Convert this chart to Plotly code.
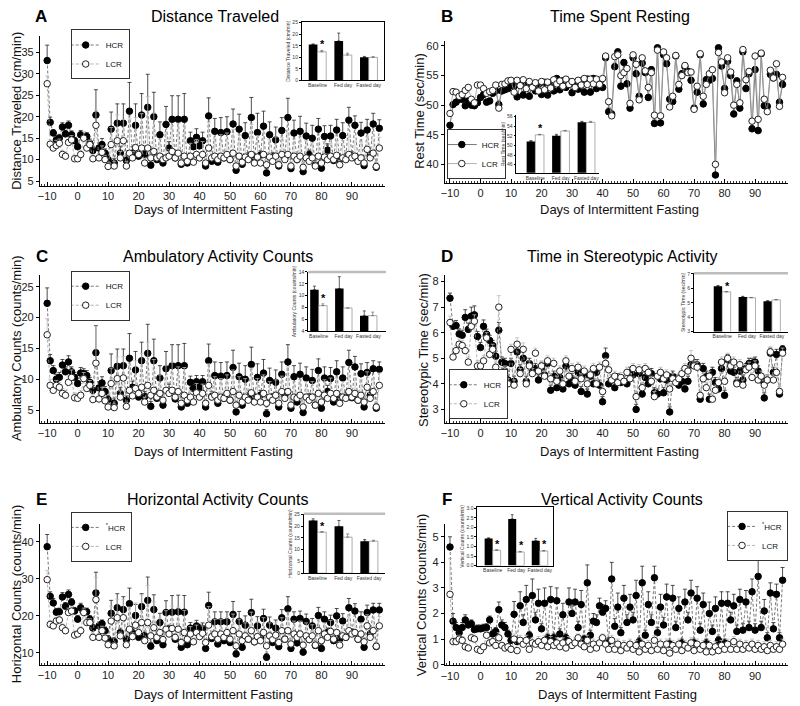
import plotly.graph_objects as go

FONT = "Liberation Sans, Arial, Helvetica, sans-serif"

# ---------------- data ----------------
days = list(range(-10, 100))
day_ticks = [-10, 0, 10, 20, 30, 40, 50, 60, 70, 80, 90]
inset_cats = ["Baseline", "Fed day", "Fasted day"]

# A  Distance traveled (cm/min)
A_hcr = [33.1, 18.7, 16.2, 14.6, 15.0, 17.6, 16.0, 18.0, 15.8, 14.4,
         13.0, 15.8, 15.2, 15.4, 13.8, 12.1, 20.4, 12.7, 13.5, 11.5,
         10.0, 17.1, 9.2, 18.5, 11.5, 18.5, 9.8, 21.3, 11.5, 18.0,
         10.8, 20.4, 11.2, 22.2, 8.7, 20.0, 10.0, 15.8, 9.2, 18.2,
         12.7, 19.4, 10.4, 19.4, 8.9, 19.4, 9.2, 14.4, 13.0, 15.2,
         13.2, 14.4, 8.5, 20.2, 9.6, 16.6, 9.4, 16.3, 10.4, 16.5,
         10.0, 18.3, 7.5, 17.1, 8.9, 15.6, 10.6, 19.8, 10.4, 16.3,
         11.0, 17.8, 6.9, 15.8, 10.6, 14.6, 8.5, 16.8, 10.4, 19.8,
         7.9, 16.2, 10.0, 16.6, 7.2, 15.5, 11.2, 15.0, 8.7, 17.1,
         8.0, 15.4, 12.2, 15.5, 9.8, 16.9, 10.0, 15.6, 10.4, 19.2,
         10.8, 18.0, 10.0, 16.2, 8.6, 16.9, 10.9, 18.3, 8.2, 17.3]
A_hcr_err = [3.6, 1.2, 0.8, 1.0, 0.9, 1.0, 0.8, 1.0, 0.9, 0.8,
             0.9, 1.0, 0.8, 0.9, 1.0, 1.0, 5.9, 1.2, 1.4, 1.0,
             1.0, 4.0, 1.0, 4.5, 1.5, 4.5, 1.0, 6.7, 1.5, 5.0,
             1.0, 5.0, 1.2, 7.7, 1.0, 5.7, 1.0, 3.0, 1.0, 4.2,
             1.5, 5.5, 1.2, 5.5, 1.0, 6.0, 1.0, 2.0, 1.2, 2.0,
             1.0, 2.0, 1.0, 4.2, 1.0, 3.0, 1.0, 3.5, 1.0, 3.5,
             1.0, 3.5, 1.0, 3.5, 1.0, 3.0, 1.0, 4.7, 1.0, 4.5,
             1.0, 3.5, 1.0, 3.0, 1.0, 3.0, 1.0, 3.0, 1.0, 4.5,
             1.0, 3.0, 1.0, 3.5, 1.0, 3.0, 1.0, 3.0, 1.0, 2.5,
             1.0, 2.5, 1.5, 2.5, 1.0, 2.5, 1.0, 3.0, 1.0, 3.0,
             1.0, 2.2, 1.0, 2.5, 1.0, 2.5, 1.0, 2.5, 1.0, 2.0]
A_lcr = [27.7, 13.6, 12.7, 13.3, 13.8, 11.2, 10.8, 14.0, 14.6, 10.2,
         10.2, 11.2, 15.0, 12.7, 13.5, 10.2, 18.0, 10.4, 11.7, 10.0,
         8.4, 13.5, 8.5, 14.4, 10.4, 14.4, 8.5, 11.5, 10.4, 12.8,
         11.2, 12.7, 9.2, 12.7, 10.4, 11.9, 10.4, 10.8, 10.0, 10.4,
         10.8, 11.9, 10.4, 11.5, 9.2, 10.8, 9.6, 10.8, 9.4, 11.2,
         10.4, 11.2, 9.2, 12.7, 10.4, 10.8, 10.0, 10.8, 10.4, 11.2,
         10.0, 11.5, 8.5, 10.8, 9.4, 10.6, 10.0, 11.2, 9.2, 10.6,
         9.2, 11.2, 8.8, 10.6, 9.6, 10.8, 8.8, 11.2, 10.0, 11.2,
         8.5, 10.8, 10.0, 10.8, 8.2, 10.4, 9.6, 10.4, 8.5, 10.8,
         9.2, 10.6, 10.0, 10.8, 10.0, 11.0, 8.8, 10.4, 10.0, 11.2,
         10.4, 10.8, 9.6, 10.4, 9.2, 12.4, 10.4, 11.5, 8.4, 12.7]
A_lcr_err = [1.8, 1.0, 1.0, 1.2, 1.0, 1.0, 1.0, 1.2, 1.0, 0.8,
             0.8, 1.0, 1.5, 1.2, 1.0, 0.8, 3.5, 1.0, 1.5, 1.0,
             1.0, 4.0, 1.0, 6.0, 1.5, 5.0, 1.0, 8.0, 1.5, 7.0,
             1.0, 8.0, 1.0, 12.0, 1.0, 9.0, 1.0, 4.0, 1.0, 6.0,
             1.5, 6.0, 1.0, 7.0, 1.0, 7.0, 1.0, 3.0, 1.0, 3.5,
             1.0, 3.0, 1.0, 6.0, 1.0, 4.0, 1.0, 5.0, 1.0, 5.0,
             1.0, 5.5, 1.0, 5.0, 1.0, 4.0, 1.0, 7.0, 1.0, 5.0,
             1.0, 5.0, 1.0, 4.0, 1.0, 4.5, 1.0, 4.0, 1.0, 5.0,
             1.0, 4.0, 1.0, 4.5, 1.0, 4.0, 1.0, 3.5, 1.0, 3.0,
             1.0, 3.5, 1.0, 3.0, 1.0, 3.5, 1.0, 4.0, 1.0, 4.0,
             1.0, 3.5, 1.0, 3.5, 1.0, 3.0, 1.0, 3.0, 1.0, 2.5]

# B  Rest time (sec/min)
B_hcr = [46.6, 50.1, 50.5, 51.0, 51.0, 49.9, 50.7, 50.0, 49.9, 50.4,
         51.3, 51.8, 50.5, 50.7, 52.0, 52.4, 50.1, 52.4, 52.6, 52.8,
         53.8, 53.2, 51.4, 53.5, 51.7, 53.5, 51.5, 53.4, 52.4, 53.5,
         51.8, 53.8, 51.7, 53.5, 52.4, 54.5, 52.6, 54.1, 53.0, 53.9,
         52.1, 53.7, 52.7, 54.1, 52.2, 54.4, 52.2, 54.5, 52.8, 53.8,
         53.0, 58.0, 48.9, 48.5, 56.5, 59.0, 53.2, 57.2, 53.6, 49.5,
         58.0, 55.3, 51.5, 57.1, 55.5, 51.3, 56.0, 46.9, 59.7, 47.0,
         58.5, 57.0, 51.0, 50.6, 58.3, 52.7, 55.3, 56.5, 55.7, 54.2,
         49.5, 52.2, 58.5, 50.2, 54.3, 54.2, 54.5, 38.2, 59.7, 56.6,
         52.8, 57.4, 55.0, 48.5, 54.1, 49.5, 59.0, 52.8, 55.3, 46.0,
         56.0, 45.7, 58.7, 49.9, 49.8, 55.2, 54.6, 55.2, 50.5, 53.5]
B_hcr_err = [0.3, 0.4, 0.4, 0.5, 0.5, 0.4, 0.5, 0.4, 0.5, 0.5,
             0.5, 0.5, 0.5, 0.5, 0.5, 0.5, 0.6, 0.5, 0.5, 0.6,
             0.6, 0.6, 0.6, 0.6, 0.6, 0.6, 0.7, 0.6, 0.6, 0.6,
             0.7, 0.6, 0.8, 0.6, 0.6, 0.5, 0.6, 0.5, 0.6, 0.5,
             0.6, 0.5, 0.6, 0.5, 0.6, 0.5, 0.6, 0.5, 0.6, 0.5,
             0.5, 0.5, 0.6, 0.5, 0.6, 0.5, 0.5, 0.5, 0.5, 0.5,
             0.5, 0.5, 0.5, 0.5, 0.5, 0.5, 0.5, 0.6, 0.4, 0.8,
             0.5, 0.5, 0.5, 0.5, 0.5, 0.5, 0.5, 0.5, 0.5, 0.5,
             0.5, 0.5, 0.5, 0.5, 0.5, 0.5, 0.5, 0.4, 0.4, 0.5,
             0.5, 0.5, 0.5, 0.5, 0.5, 0.5, 0.5, 0.5, 0.5, 0.5,
             0.5, 0.5, 0.5, 0.5, 0.5, 0.5, 0.5, 0.5, 0.5, 0.5]
B_lcr = [48.6, 52.3, 52.2, 51.5, 51.8, 52.5, 53.0, 51.0, 50.4, 53.4,
         53.4, 52.8, 52.0, 52.3, 52.5, 53.4, 49.5, 53.5, 53.6, 54.1,
         54.2, 52.2, 54.2, 53.3, 54.3, 52.8, 54.0, 53.0, 53.8, 52.4,
         54.0, 52.6, 53.9, 52.9, 54.3, 53.6, 54.1, 53.2, 54.4, 53.5,
         54.0, 53.0, 54.2, 53.4, 54.5, 53.5, 54.4, 53.6, 54.4, 53.5,
         54.5, 58.3, 50.6, 48.2, 58.2, 58.5, 55.0, 55.5, 56.2, 50.3,
         58.5, 56.9, 50.9, 58.0, 55.8, 53.0, 55.5, 48.3, 59.3, 48.2,
         59.0, 58.0, 49.7, 51.5, 58.4, 53.5, 55.0, 56.7, 55.5, 55.6,
         49.3, 53.2, 58.7, 51.5, 53.5, 55.3, 56.0, 40.0, 58.9, 57.3,
         52.1, 58.0, 55.6, 50.0, 53.5, 50.4, 59.4, 54.3, 55.7, 47.3,
         58.3, 47.6, 58.8, 51.0, 48.9, 55.9, 54.6, 57.0, 49.8, 54.7]
B_lcr_err = [0.4, 0.4, 0.4, 0.4, 0.4, 0.4, 0.4, 0.4, 0.4, 0.4,
             0.4, 0.4, 0.4, 0.4, 0.4, 0.4, 0.5, 0.4, 0.4, 0.4,
             0.4, 0.4, 0.4, 0.4, 0.4, 0.4, 0.4, 0.4, 0.4, 0.4,
             0.4, 0.4, 0.4, 0.4, 0.4, 0.4, 0.4, 0.4, 0.4, 0.4,
             0.4, 0.4, 0.4, 0.4, 0.4, 0.4, 0.4, 0.4, 0.4, 0.4,
             0.4, 0.3, 0.4, 0.4, 0.3, 0.3, 0.4, 0.4, 0.4, 0.4,
             0.3, 0.4, 0.4, 0.3, 0.4, 0.4, 0.4, 0.4, 0.3, 0.4,
             0.3, 0.3, 0.4, 0.4, 0.3, 0.4, 0.4, 0.4, 0.4, 0.4,
             0.4, 0.4, 0.3, 0.4, 0.4, 0.4, 0.4, 0.4, 0.3, 0.4,
             0.4, 0.3, 0.4, 0.4, 0.4, 0.4, 0.3, 0.4, 0.4, 0.4,
             0.3, 0.4, 0.3, 0.4, 0.4, 0.4, 0.4, 0.4, 0.4, 0.4]

# C  Ambulatory counts (counts/min)
C_hcr = [22.3, 13.0, 11.4, 10.0, 10.3, 12.3, 11.2, 12.8, 11.2, 10.3,
         9.3, 11.0, 10.9, 10.6, 9.5, 8.2, 14.3, 8.6, 9.4, 8.0,
         6.7, 11.4, 6.1, 12.1, 7.7, 12.2, 6.6, 13.4, 8.7, 11.5,
         7.1, 13.0, 7.2, 14.2, 5.6, 13.0, 6.9, 10.2, 5.8, 11.7,
         8.2, 12.2, 6.8, 12.2, 5.5, 12.2, 6.1, 9.5, 8.5, 9.6,
         8.7, 9.6, 5.5, 13.0, 7.2, 10.6, 6.1, 10.5, 6.9, 10.6,
         6.6, 11.9, 4.7, 10.4, 5.8, 10.0, 7.1, 12.4, 6.9, 10.3,
         7.4, 11.0, 4.4, 9.8, 6.9, 9.5, 5.5, 10.8, 7.4, 12.8,
         5.3, 10.4, 6.3, 10.8, 4.6, 10.2, 6.9, 9.8, 5.8, 11.4,
         5.3, 10.2, 8.0, 10.1, 6.3, 11.2, 6.9, 10.2, 7.1, 12.7,
         7.0, 12.0, 6.6, 10.9, 5.5, 11.1, 7.4, 11.7, 5.3, 11.6]
C_hcr_err = [2.5, 1.0, 0.8, 0.8, 0.8, 0.9, 0.8, 1.0, 0.8, 0.8,
             0.8, 0.9, 0.8, 0.8, 0.8, 0.8, 4.4, 1.0, 1.0, 0.8,
             0.7, 2.7, 0.7, 2.8, 1.0, 2.7, 0.7, 4.0, 1.0, 3.0,
             0.8, 3.0, 0.8, 4.7, 0.8, 3.5, 0.8, 2.0, 0.8, 2.8,
             1.0, 3.4, 0.8, 3.4, 0.8, 3.6, 0.8, 1.0, 0.8, 1.0,
             0.8, 1.0, 0.7, 2.7, 0.8, 2.2, 0.8, 2.2, 0.8, 2.2,
             0.8, 2.8, 0.7, 2.2, 0.8, 2.2, 0.8, 2.8, 0.8, 2.2,
             0.8, 2.2, 0.7, 2.0, 0.8, 2.0, 0.7, 2.0, 0.8, 2.8,
             0.7, 1.8, 0.8, 1.8, 0.7, 1.8, 0.8, 1.8, 0.7, 1.9,
             0.7, 1.8, 1.0, 1.8, 0.8, 1.8, 0.8, 1.8, 0.8, 2.0,
             0.8, 1.7, 0.8, 1.6, 0.7, 1.6, 0.8, 1.3, 0.7, 1.2]
C_lcr = [17.2, 9.0, 8.2, 9.0, 8.7, 7.7, 7.4, 9.5, 10.3, 7.0,
         6.9, 7.4, 10.1, 8.5, 9.0, 6.7, 12.6, 6.8, 7.7, 6.5,
         5.5, 9.3, 5.4, 10.1, 7.1, 10.2, 5.6, 8.2, 7.3, 8.5,
         7.7, 8.7, 6.3, 9.0, 7.4, 8.2, 7.1, 7.7, 6.6, 8.2,
         7.7, 8.2, 7.1, 8.0, 6.1, 7.4, 6.6, 7.1, 6.3, 7.8,
         7.1, 7.7, 6.1, 9.0, 7.1, 7.4, 6.6, 7.1, 6.9, 7.7,
         6.6, 8.0, 5.8, 7.4, 6.3, 7.1, 6.6, 7.8, 6.3, 7.1,
         6.3, 7.7, 6.1, 7.1, 6.6, 7.4, 6.1, 8.0, 6.9, 8.0,
         5.8, 7.1, 6.9, 7.4, 5.5, 7.1, 6.6, 7.1, 5.8, 7.7,
         6.3, 7.4, 6.9, 7.7, 6.9, 7.7, 6.1, 7.1, 6.9, 8.0,
         7.1, 7.7, 6.6, 7.4, 6.3, 8.7, 6.9, 8.0, 5.5, 9.0]
C_lcr_err = [2.6, 1.0, 0.8, 0.8, 0.8, 0.8, 0.8, 1.0, 1.2, 0.8,
             0.8, 0.8, 1.0, 0.8, 0.8, 0.8, 6.0, 0.8, 1.0, 0.8,
             0.6, 2.5, 0.6, 3.5, 1.0, 3.5, 0.6, 4.0, 1.0, 4.5,
             1.0, 5.5, 0.8, 7.0, 0.8, 5.0, 0.8, 3.0, 0.8, 4.0,
             1.0, 4.5, 0.8, 4.0, 0.8, 4.5, 0.8, 1.0, 0.8, 1.5,
             0.8, 1.5, 0.8, 3.5, 0.8, 3.0, 0.8, 3.0, 0.8, 3.0,
             0.8, 3.5, 0.8, 3.0, 0.8, 3.0, 0.8, 4.0, 0.8, 3.0,
             0.8, 3.0, 0.8, 2.5, 0.8, 2.5, 0.8, 2.5, 0.8, 4.0,
             0.8, 2.5, 0.8, 2.5, 0.8, 2.5, 0.8, 2.5, 0.8, 2.5,
             0.8, 2.5, 0.8, 2.5, 0.8, 2.5, 0.8, 2.5, 0.8, 2.5,
             0.8, 2.5, 0.8, 2.5, 0.8, 2.5, 0.8, 2.0, 0.8, 2.0]

# D  Stereotypic time (sec/min)
D_hcr = [7.35, 6.25, 6.28, 5.95, 5.9, 6.6, 6.13, 6.65, 6.7, 5.85,
         5.42, 6.25, 5.94, 5.7, 5.5, 5.08, 6.1, 4.85, 4.8, 4.15,
         4.8, 4.1, 5.25, 4.55, 5.0, 4.1, 4.8, 4.45, 4.6, 4.15,
         4.65, 4.35, 4.8, 3.75, 4.3, 3.85, 4.25, 3.8, 4.7, 4.0,
         4.2, 3.95, 4.45, 3.7, 4.35, 3.6, 4.3, 4.0, 4.45, 3.95,
         3.3, 5.1, 4.0, 4.15, 3.85, 4.2, 4.05, 4.1, 4.0, 4.45,
         4.35, 3.0, 4.4, 3.6, 4.25, 4.0, 4.4, 3.65, 3.6, 4.2,
         3.65, 4.15, 2.9, 4.3, 4.15, 3.95, 4.1, 3.8, 4.1, 4.75,
         4.75, 4.75, 3.4, 4.6, 4.3, 3.4, 4.45, 4.05, 3.8, 4.6,
         3.55, 4.95, 4.5, 4.45, 4.05, 4.5, 4.15, 4.6, 4.8, 4.8,
         4.85, 4.5, 4.15, 3.45, 4.15, 5.2, 4.45, 5.15, 3.6, 5.35]
D_hcr_err = [0.2, 0.2, 0.2, 0.2, 0.2, 0.3, 0.25, 0.35, 0.35, 0.2,
             0.2, 0.25, 0.2, 0.2, 0.2, 0.2, 0.3, 0.2, 0.2, 0.2,
             0.2, 0.2, 0.3, 0.2, 0.3, 0.2, 0.2, 0.2, 0.2, 0.2,
             0.2, 0.2, 0.2, 0.2, 0.2, 0.2, 0.2, 0.2, 0.25, 0.2,
             0.2, 0.2, 0.2, 0.2, 0.2, 0.2, 0.2, 0.2, 0.2, 0.2,
             0.2, 0.3, 0.2, 0.2, 0.2, 0.2, 0.2, 0.2, 0.2, 0.2,
             0.2, 0.2, 0.2, 0.2, 0.2, 0.2, 0.2, 0.2, 0.2, 0.2,
             0.2, 0.2, 0.2, 0.2, 0.2, 0.2, 0.2, 0.2, 0.2, 0.3,
             0.2, 0.2, 0.2, 0.2, 0.2, 0.2, 0.2, 0.2, 0.2, 0.2,
             0.2, 0.2, 0.2, 0.2, 0.2, 0.2, 0.2, 0.2, 0.2, 0.2,
             0.2, 0.2, 0.2, 0.2, 0.2, 0.2, 0.2, 0.2, 0.2, 0.15]
D_lcr = [6.4, 5.05, 5.3, 5.55, 5.5, 5.3, 4.85, 6.25, 6.45, 4.7,
         4.7, 4.9, 5.8, 5.15, 5.35, 4.65, 7.0, 4.45, 4.5, 4.0,
         5.35, 3.95, 5.55, 4.4, 5.35, 4.0, 4.7, 4.4, 5.2, 4.5,
         4.7, 4.3, 4.9, 4.2, 4.8, 4.1, 4.5, 4.0, 4.9, 4.3,
         4.6, 4.1, 4.65, 4.2, 4.5, 4.0, 4.35, 4.6, 4.0, 4.65,
         3.7, 4.8, 4.55, 4.15, 4.3, 4.05, 4.25, 4.1, 4.45, 4.2,
         4.6, 3.5, 4.55, 3.85, 4.6, 4.45, 4.1, 3.5, 4.3, 4.45,
         4.2, 4.35, 3.8, 4.2, 4.05, 4.2, 4.4, 4.6, 4.5, 5.0,
         4.7, 4.65, 3.55, 4.2, 3.85, 4.3, 3.4, 3.75, 4.05, 4.85,
         4.1, 5.0, 4.7, 4.85, 4.0, 4.75, 3.95, 4.55, 4.65, 4.25,
         4.7, 4.15, 4.3, 3.95, 4.15, 5.25, 4.15, 4.45, 3.7, 5.2]
D_lcr_err = [0.25, 0.2, 0.2, 0.2, 0.2, 0.2, 0.2, 0.25, 0.25, 0.2,
             0.2, 0.2, 0.2, 0.2, 0.2, 0.2, 0.45, 0.2, 0.2, 0.2,
             0.2, 0.2, 0.25, 0.2, 0.25, 0.2, 0.2, 0.2, 0.2, 0.2,
             0.2, 0.2, 0.2, 0.2, 0.2, 0.2, 0.2, 0.2, 0.2, 0.2,
             0.2, 0.2, 0.2, 0.2, 0.2, 0.2, 0.2, 0.2, 0.2, 0.2,
             0.2, 0.2, 0.2, 0.2, 0.2, 0.2, 0.2, 0.2, 0.2, 0.2,
             0.2, 0.2, 0.2, 0.2, 0.2, 0.2, 0.2, 0.2, 0.2, 0.2,
             0.2, 0.2, 0.2, 0.2, 0.2, 0.2, 0.2, 0.2, 0.2, 0.3,
             0.2, 0.2, 0.2, 0.2, 0.2, 0.2, 0.2, 0.2, 0.2, 0.2,
             0.2, 0.2, 0.2, 0.2, 0.2, 0.2, 0.2, 0.2, 0.2, 0.2,
             0.2, 0.2, 0.2, 0.2, 0.2, 0.2, 0.2, 0.2, 0.2, 0.2]

# E  Horizontal counts (counts/min)
E_hcr = [38.7, 25.3, 23.5, 21.0, 21.1, 25.1, 22.6, 25.8, 23.7, 21.3,
         19.1, 22.2, 21.1, 21.1, 19.1, 16.7, 26.2, 17.3, 17.9, 16.0,
         13.7, 20.7, 13.1, 22.2, 15.5, 21.7, 13.6, 23.3, 15.5, 20.1,
         14.2, 22.5, 14.6, 24.2, 11.8, 21.7, 13.3, 18.2, 12.2, 20.9,
         16.2, 21.0, 13.7, 21.1, 11.5, 21.0, 12.2, 16.7, 15.8, 17.3,
         16.6, 16.6, 11.2, 22.8, 13.9, 18.4, 12.4, 18.4, 13.3, 18.4,
         12.8, 20.4, 9.7, 18.5, 11.5, 17.5, 13.7, 20.9, 13.0, 17.3,
         14.0, 19.3, 8.8, 17.5, 12.8, 16.7, 11.7, 19.5, 13.7, 21.9,
         11.2, 19.1, 12.7, 19.3, 10.2, 18.5, 13.6, 17.3, 12.0, 20.1,
         11.2, 19.1, 15.5, 18.2, 13.3, 20.0, 13.7, 18.6, 14.2, 22.2,
         15.5, 21.3, 13.7, 19.1, 11.5, 20.9, 15.1, 21.6, 11.7, 21.6]
E_hcr_err = [3.3, 1.2, 1.2, 1.0, 1.0, 1.2, 1.0, 1.2, 1.0, 1.0,
             1.0, 1.2, 1.0, 1.0, 1.0, 1.0, 5.6, 1.0, 1.0, 1.0,
             1.0, 3.5, 1.0, 3.8, 1.0, 3.5, 1.0, 4.2, 1.2, 3.0,
             1.0, 3.5, 1.0, 6.3, 1.0, 4.0, 1.0, 2.5, 1.0, 3.2,
             1.2, 4.5, 1.0, 4.5, 1.0, 4.5, 1.0, 1.5, 1.0, 1.5,
             1.0, 1.5, 1.0, 3.6, 1.0, 2.7, 1.0, 2.7, 1.0, 2.7,
             1.0, 3.5, 1.0, 2.7, 1.0, 2.5, 1.0, 3.6, 1.0, 2.5,
             1.0, 2.5, 1.0, 2.2, 1.0, 2.2, 1.0, 2.2, 1.0, 3.3,
             1.0, 2.0, 1.0, 2.0, 1.0, 2.0, 1.0, 2.0, 1.0, 2.2,
             1.0, 2.0, 1.2, 2.0, 1.0, 2.0, 1.0, 2.0, 1.0, 2.5,
             1.0, 2.0, 1.0, 2.0, 1.0, 2.0, 1.0, 1.8, 1.0, 1.8]
E_lcr = [29.8, 17.7, 17.3, 18.6, 18.9, 16.8, 16.0, 20.9, 21.3, 14.8,
         15.1, 16.0, 20.9, 18.2, 18.2, 14.2, 24.4, 14.2, 16.0, 14.0,
         12.2, 18.6, 11.9, 19.5, 14.6, 19.5, 12.2, 16.4, 14.4, 17.5,
         15.5, 18.2, 13.3, 18.2, 14.6, 16.8, 14.2, 15.5, 13.6, 16.4,
         15.1, 16.6, 14.2, 16.4, 12.8, 15.5, 13.7, 15.1, 13.0, 15.5,
         14.4, 15.3, 12.8, 17.5, 14.4, 15.1, 13.7, 15.1, 14.2, 15.5,
         13.7, 16.0, 11.9, 15.1, 13.3, 14.6, 13.7, 16.0, 13.0, 14.4,
         13.3, 15.5, 11.9, 14.6, 13.6, 14.8, 12.8, 16.0, 13.7, 16.0,
         12.4, 15.1, 14.2, 15.1, 12.1, 14.6, 13.6, 14.6, 12.1, 16.0,
         13.3, 15.1, 14.2, 15.8, 13.7, 15.5, 12.1, 14.6, 14.2, 16.0,
         15.1, 15.5, 13.7, 15.1, 13.0, 17.3, 14.2, 16.0, 11.8, 17.3]
E_lcr_err = [2.5, 1.0, 1.0, 1.0, 1.0, 1.0, 1.0, 1.2, 1.2, 1.0,
             1.0, 1.0, 1.2, 1.0, 1.0, 1.0, 6.0, 1.0, 1.2, 1.0,
             0.8, 4.0, 0.8, 5.0, 1.0, 5.0, 0.8, 6.0, 1.0, 6.0,
             1.0, 7.5, 0.8, 10.0, 1.0, 7.0, 1.0, 4.0, 1.0, 5.0,
             1.0, 6.0, 1.0, 6.0, 1.0, 6.0, 1.0, 2.0, 1.0, 2.0,
             1.0, 2.0, 1.0, 5.0, 1.0, 4.0, 1.0, 4.0, 1.0, 4.0,
             1.0, 4.5, 1.0, 4.0, 1.0, 3.5, 1.0, 5.0, 1.0, 4.0,
             1.0, 4.0, 1.0, 3.5, 1.0, 3.5, 1.0, 3.5, 1.0, 5.0,
             1.0, 3.5, 1.0, 3.5, 1.0, 3.5, 1.0, 3.0, 1.0, 3.0,
             1.0, 3.0, 1.0, 3.0, 1.0, 3.0, 1.0, 3.0, 1.0, 3.5,
             1.0, 3.0, 1.0, 3.0, 1.0, 3.0, 1.0, 2.5, 1.0, 2.5]

# F  Vertical counts (counts/min)
F_hcr = [4.6, 1.7, 1.45, 1.25, 1.45, 1.75, 1.55, 1.6, 1.37, 1.4,
         1.4, 1.43, 1.45, 1.75, 1.2, 1.3, 2.15, 1.55, 1.45, 1.2,
         0.95, 1.97, 0.9, 2.3, 1.65, 2.55, 1.15, 2.7, 1.75, 2.4,
         1.4, 2.4, 1.05, 2.55, 1.05, 2.5, 1.2, 1.95, 1.05, 2.45,
         2.0, 2.45, 1.45, 2.35, 1.0, 3.2, 1.15, 1.7, 1.65, 2.3,
         2.05, 2.2, 0.9, 3.35, 1.5, 2.25, 1.25, 2.6, 1.65, 2.25,
         1.75, 2.7, 0.9, 3.2, 1.15, 2.35, 1.65, 3.4, 1.25, 2.25,
         1.55, 2.65, 0.8, 2.6, 1.45, 2.2, 0.85, 2.45, 1.75, 2.8,
         0.85, 2.6, 1.35, 2.35, 0.85, 2.0, 1.3, 2.2, 0.95, 2.4,
         0.85, 2.4, 1.75, 2.3, 1.3, 2.55, 1.35, 2.45, 1.45, 2.85,
         1.35, 3.45, 1.45, 2.1, 1.05, 2.8, 1.4, 2.75, 1.05, 3.3]
F_hcr_err = [0.4, 0.3, 0.2, 0.15, 0.2, 0.2, 0.15, 0.15, 0.15, 0.15,
             0.15, 0.15, 0.15, 0.15, 0.15, 0.15, 0.3, 0.2, 0.2, 0.15,
             0.15, 0.5, 0.15, 0.55, 0.3, 0.55, 0.15, 0.65, 0.3, 0.55,
             0.2, 0.6, 0.15, 0.5, 0.15, 0.5, 0.2, 0.45, 0.15, 0.55,
             0.3, 0.5, 0.25, 0.55, 0.15, 0.7, 0.2, 0.3, 0.3, 0.3,
             0.3, 0.3, 0.15, 0.65, 0.3, 0.55, 0.2, 0.5, 0.3, 0.5,
             0.3, 0.6, 0.15, 0.65, 0.2, 0.5, 0.3, 0.45, 0.2, 0.5,
             0.3, 0.5, 0.15, 0.5, 0.25, 0.45, 0.15, 0.5, 0.3, 0.5,
             0.15, 0.45, 0.25, 0.45, 0.15, 0.45, 0.25, 0.45, 0.15, 0.45,
             0.15, 0.45, 0.3, 0.45, 0.25, 0.4, 0.25, 0.45, 0.25, 0.5,
             0.25, 0.75, 0.25, 0.45, 0.2, 0.4, 0.25, 0.4, 0.2, 0.5]
F_lcr = [2.75, 0.9, 0.9, 1.0, 0.95, 0.7, 0.65, 1.05, 1.0, 0.6,
         0.55, 0.7, 1.15, 0.85, 0.9, 0.75, 1.05, 0.75, 0.65, 0.7,
         0.6, 1.0, 0.55, 0.95, 0.8, 0.95, 0.6, 0.85, 0.8, 0.9,
         0.75, 0.95, 0.7, 0.9, 0.75, 0.85, 0.7, 0.85, 0.65, 0.9,
         0.75, 0.85, 1.05, 0.8, 0.7, 0.95, 0.6, 0.8, 0.65, 0.85,
         1.05, 0.8, 0.6, 0.95, 0.6, 0.8, 0.55, 0.75, 0.65, 0.8,
         0.6, 0.75, 0.5, 0.8, 0.6, 0.75, 0.55, 0.95, 0.6, 0.8,
         0.55, 0.8, 0.45, 0.75, 0.6, 0.8, 0.55, 0.75, 0.65, 0.85,
         0.55, 0.8, 0.6, 0.75, 0.5, 0.75, 0.5, 0.7, 0.55, 0.75,
         0.6, 0.8, 0.6, 0.9, 0.6, 0.8, 0.6, 0.75, 0.65, 0.8,
         0.6, 0.75, 0.6, 0.7, 0.55, 0.75, 0.6, 0.7, 0.6, 0.8]
F_lcr_err = [1.4, 0.15, 0.15, 0.15, 0.15, 0.1, 0.1, 0.15, 0.15, 0.1,
             0.1, 0.1, 0.15, 0.1, 0.1, 0.1, 0.2, 0.1, 0.1, 0.1,
             0.1, 0.2, 0.1, 0.2, 0.1, 0.2, 0.1, 0.2, 0.1, 0.2,
             0.1, 0.2, 0.1, 0.2, 0.1, 0.2, 0.1, 0.2, 0.1, 0.2,
             0.1, 0.2, 0.15, 0.2, 0.1, 0.2, 0.1, 0.2, 0.1, 0.2,
             0.15, 0.2, 0.1, 0.2, 0.1, 0.2, 0.1, 0.2, 0.1, 0.2,
             0.1, 0.2, 0.1, 0.2, 0.1, 0.2, 0.1, 0.2, 0.1, 0.2,
             0.1, 0.2, 0.1, 0.2, 0.1, 0.2, 0.1, 0.2, 0.1, 0.2,
             0.1, 0.2, 0.1, 0.2, 0.1, 0.2, 0.1, 0.2, 0.1, 0.2,
             0.1, 0.2, 0.1, 0.2, 0.1, 0.2, 0.1, 0.2, 0.1, 0.2,
             0.1, 0.2, 0.1, 0.2, 0.1, 0.2, 0.1, 0.2, 0.1, 0.2]

# Inset bar values (Baseline, Fed day, Fasted day)
A_in_hcr = [15.5, 17.1, 10.0]; A_in_hcr_err = [0.3, 3.4, 0.4]
A_in_lcr = [12.4, 11.0, 10.0]; A_in_lcr_err = [0.6, 0.8, 0.3]
B_in_hcr = [50.8, 52.0, 54.8]; B_in_hcr_err = [0.2, 0.3, 0.2]
B_in_lcr = [52.2, 53.0, 54.8]; B_in_lcr_err = [0.1, 0.1, 0.2]
C_in_hcr = [11.0, 11.2, 6.6]; C_in_hcr_err = [0.6, 2.0, 0.8]
C_in_lcr = [8.3, 7.9, 6.6]; C_in_lcr_err = [0.3, 0.0, 0.6]
D_in_hcr = [6.15, 5.4, 5.1]; D_in_hcr_err = [0.05, 0.05, 0.05]
D_in_lcr = [5.76, 5.35, 5.2]; D_in_lcr_err = [0.02, 0.02, 0.03]
E_in_hcr = [22.4, 19.9, 13.6]; E_in_hcr_err = [0.7, 2.5, 0.7]
E_in_lcr = [17.4, 15.3, 13.6]; E_in_lcr_err = [0.3, 1.4, 0.4]
F_in_hcr = [1.42, 2.44, 1.3]; F_in_hcr_err = [0.03, 0.22, 0.12]
F_in_lcr = [0.8, 0.71, 0.76]; F_in_lcr_err = [0.03, 0.03, 0.03]

# ---------------- layout helpers ----------------
# the page body adds an 8 px margin, so the figure is 8 px smaller and
# reference pixel positions are shifted by that margin
OFF = 8
W, H = 800 - OFF, 706 - OFF


def fx(p):
    return (p - OFF) / W


def fy(p):
    return 1 - (p - OFF) / H


def ref(kind, i):
    return kind if i == 1 else f"{kind}{i}"


panels = [
    dict(letter="A", title="Distance Traveled", ytitle="Distance Traveled (cm/min)",
         hcr=A_hcr, hcr_err=A_hcr_err, lcr=A_lcr, lcr_err=A_lcr_err,
         xpx=(36, 383), ypx=(33, 185), xr=[-12.4, 100.9], yr=[3.85, 38.9],
         yt=[5, 10, 15, 20, 25, 30, 35], tpos=(212, 14), lpos=(37, 14),
         ytpos=(13, 109), xtpos=(211, 209), leg=(67, 52, "left", "middle"),
         hname="HCR", dash="3px,2px"),
    dict(letter="B", title="Time Spent Resting", ytitle="Rest Time (sec/min)",
         hcr=B_hcr, hcr_err=B_hcr_err, lcr=B_lcr, lcr_err=B_lcr_err,
         xpx=(443, 788), ypx=(38.3, 181.7), xr=[-11.7, 100.8], yr=[36.9, 60.85],
         yt=[40, 45, 50, 55, 60], tpos=(619, 14), lpos=(445.5, 14),
         ytpos=(418, 109), xtpos=(619, 209), leg=(445, 178, "left", "bottom"),
         hname="HCR", dash="solid"),
    dict(letter="C", title="Ambulatory Activity Counts", ytitle="Ambulatory Counts (counts/min)",
         hcr=C_hcr, hcr_err=C_hcr_err, lcr=C_lcr, lcr_err=C_lcr_err,
         xpx=(36, 383), ypx=(275, 425), xr=[-12.4, 100.9], yr=[2.87, 26.9],
         yt=[5, 10, 15, 20, 25], tpos=(215, 256), lpos=(38, 256),
         ytpos=(12, 349), xtpos=(211, 454), leg=(67, 296, "left", "middle"),
         hname="HCR", dash="3px,2px"),
    dict(letter="D", title="Time in Stereotypic Activity", ytitle="Stereotypic Time (sec/min)",
         hcr=D_hcr, hcr_err=D_hcr_err, lcr=D_lcr, lcr_err=D_lcr_err,
         xpx=(443, 788), ypx=(275, 425), xr=[-11.7, 100.8], yr=[2.46, 8.26],
         yt=[3, 4, 5, 6, 7, 8], tpos=(622, 256), lpos=(445.5, 256),
         ytpos=(421, 351), xtpos=(619, 454), leg=(447, 421, "left", "bottom"),
         hname="HCR", dash="3px,2px"),
    dict(letter="E", title="Horizontal Activity Counts", ytitle="Horizontal Counts (counts/min)",
         hcr=E_hcr, hcr_err=E_hcr_err, lcr=E_lcr, lcr_err=E_lcr_err,
         xpx=(36, 383), ypx=(526.7, 669.3), xr=[-12.4, 100.9], yr=[6.8, 44.9],
         yt=[10, 20, 30, 40], tpos=(215, 502), lpos=(38, 502),
         ytpos=(12, 598), xtpos=(211, 699), leg=(67, 540, "left", "middle"),
         hname="<sup>*</sup>HCR", dash="3px,2px"),
    dict(letter="F", title="Vertical Activity Counts", ytitle="Vertical Counts (counts/min)",
         hcr=F_hcr, hcr_err=F_hcr_err, lcr=F_lcr, lcr_err=F_lcr_err,
         xpx=(443, 788), ypx=(526.7, 670), xr=[-11.7, 100.8], yr=[-0.03, 5.51],
         yt=[0, 1, 2, 3, 4, 5], tpos=(621, 502), lpos=(445.5, 502),
         ytpos=(419, 598), xtpos=(617, 699), leg=(788, 539, "right", "middle"),
         hname="<sup>*</sup>HCR", dash="3px,2px"),
]

insets = [
    dict(hcr=A_in_hcr, hcr_err=A_in_hcr_err, lcr=A_in_lcr, lcr_err=A_in_lcr_err,
         xpx=(299.3, 382), ypx=(19.3, 78.3), xr=[-0.61, 2.6], yr=[0, 25.2],
         yt=[0, 5, 10, 15, 20, 25], fmt="", ytitle="Distance Traveled (cm/min)",
         deco="frame", stars=[0]),
    dict(hcr=B_in_hcr, hcr_err=B_in_hcr_err, lcr=B_in_lcr, lcr_err=B_in_lcr_err,
         xpx=(515, 598), ypx=(113.3, 171.7), xr=[-0.74, 2.5], yr=[44.3, 56.3],
         yt=[46, 48, 50, 52, 54, 56], fmt="", ytitle="Rest Time (sec/min)",
         deco="none", stars=[0]),
    dict(hcr=C_in_hcr, hcr_err=C_in_hcr_err, lcr=C_in_lcr, lcr_err=C_in_lcr_err,
         xpx=(305.7, 383.8), ypx=(272, 331.7), xr=[-0.42, 2.7], yr=[4, 14],
         yt=[4, 6, 8, 10, 12, 14], fmt="", ytitle="Ambulatory Counts (counts/min)",
         deco="top", stars=[0]),
    dict(hcr=D_in_hcr, hcr_err=D_in_hcr_err, lcr=D_in_lcr, lcr_err=D_in_lcr_err,
         xpx=(693.3, 788), ypx=(273.3, 332.3), xr=[-1.14, 2.65], yr=[3, 7.05],
         yt=[3, 4, 5, 6, 7], fmt="", ytitle="Stereotypic Time (sec/min)",
         deco="top", stars=[0]),
    dict(hcr=E_in_hcr, hcr_err=E_in_hcr_err, lcr=E_in_lcr, lcr_err=E_in_lcr_err,
         xpx=(301.3, 383), ypx=(516.7, 576.7), xr=[-0.53, 2.62], yr=[0, 25.2],
         yt=[0, 5, 10, 15, 20, 25], fmt="", ytitle="Horizontal Counts (counts/min)",
         deco="top", stars=[0]),
    dict(hcr=F_in_hcr, hcr_err=F_in_hcr_err, lcr=F_in_lcr, lcr_err=F_in_lcr_err,
         xpx=(475.7, 551.7), ypx=(510, 569), xr=[-0.65, 2.56], yr=[0, 3.05],
         yt=[0, 0.5, 1.0, 1.5, 2.0, 2.5, 3.0], fmt=".1f", ytitle="Vertical Counts (counts/min)",
         deco="frame", stars=[0, 1, 2]),
]

fig = go.Figure()
lay = {}
annotations = []
shapes = []
zeros = [0] * len(days)

for i, p in enumerate(panels, start=1):
    xr_, yr_ = ref("x", i), ref("y", i)
    lay[ref("xaxis", i)] = dict(
        domain=[fx(p["xpx"][0]), fx(p["xpx"][1])], range=p["xr"], anchor=yr_,
        tickmode="array", tickvals=day_ticks, ticks="inside", ticklen=4,
        tickcolor="black", tickwidth=1, showline=True, linecolor="black",
        linewidth=1, showgrid=False, zeroline=False,
        tickfont=dict(family=FONT, size=11, color="#222"),
        minor=dict(tickmode="linear", tick0=0, dtick=1, ticks="inside",
                   ticklen=2, tickcolor="#333", tickwidth=1, showgrid=False))
    lay[ref("yaxis", i)] = dict(
        domain=[fy(p["ypx"][1]), fy(p["ypx"][0])], range=p["yr"], anchor=xr_,
        tickmode="array", tickvals=p["yt"], ticks="outside", ticklen=3,
        tickcolor="black", showline=True, linecolor="black", linewidth=1,
        showgrid=False, zeroline=False,
        tickfont=dict(family=FONT, size=11, color="#222"))
    legname = ref("legend", i)
    fig.add_trace(go.Scatter(
        x=days, y=p["hcr"], mode="lines+markers", name=p["hname"],
        legend=legname, xaxis=xr_, yaxis=yr_, cliponaxis=False,
        line=dict(color="#555", width=0.8, dash=p["dash"]),
        marker=dict(symbol="circle", size=6.5, color="black",
                    line=dict(color="black", width=1)),
        error_y=dict(type="data", symmetric=False, array=p["hcr_err"],
                     arrayminus=zeros, color="#222", thickness=0.8, width=2)))
    fig.add_trace(go.Scatter(
        x=days, y=p["lcr"], mode="lines+markers", name="LCR",
        legend=legname, xaxis=xr_, yaxis=yr_, cliponaxis=False,
        line=dict(color="#a0a0a0", width=0.8, dash=p["dash"]),
        marker=dict(symbol="circle", size=6.5, color="white",
                    line=dict(color="#222", width=1)),
        error_y=dict(type="data", symmetric=False, array=p["lcr_err"],
                     arrayminus=zeros, color="#bbbbbb", thickness=0.8, width=2)))
    lx, ly, xanc, yanc = p["leg"]
    lay[legname] = dict(
        x=fx(lx), y=fy(ly), xanchor=xanc, yanchor=yanc, bgcolor="white",
        bordercolor="#333", borderwidth=1, itemwidth=30, tracegroupgap=0,
        indentation=-6,
        font=dict(family=FONT, size=8, color="#111"))
    # titles and labels
    annotations.append(dict(text=p["title"], x=fx(p["tpos"][0]), y=fy(p["tpos"][1]),
                            xref="paper", yref="paper", showarrow=False,
                            xanchor="center", yanchor="middle",
                            font=dict(family=FONT, size=16, color="black")))
    annotations.append(dict(text="<b>" + p["letter"] + "</b>", x=fx(p["lpos"][0]),
                            y=fy(p["lpos"][1]), xref="paper", yref="paper",
                            showarrow=False, xanchor="center", yanchor="middle",
                            font=dict(family=FONT, size=17, color="black")))
    annotations.append(dict(text=p["ytitle"], x=fx(p["ytpos"][0]), y=fy(p["ytpos"][1]),
                            xref="paper", yref="paper", showarrow=False, textangle=-90,
                            xanchor="center", yanchor="middle",
                            font=dict(family=FONT, size=13, color="#111")))
    annotations.append(dict(text="Days of Intermittent Fasting", x=fx(p["xtpos"][0]),
                            y=fy(p["xtpos"][1]), xref="paper", yref="paper",
                            showarrow=False, xanchor="center", yanchor="middle",
                            font=dict(family=FONT, size=13, color="#111")))
    annotations.append(dict(text="†", x=days[-1] + 2.8, y=p["hcr"][-1], xref=xr_, yref=yr_,
                            showarrow=False, xanchor="center", yanchor="middle",
                            font=dict(family=FONT, size=18, color="black")))

for j, q in enumerate(insets, start=7):
    xr_, yr_ = ref("x", j), ref("y", j)
    lay[ref("xaxis", j)] = dict(
        domain=[fx(q["xpx"][0]), fx(q["xpx"][1])], range=q["xr"], anchor=yr_,
        type="category", showline=True, linecolor="black", linewidth=0.8,
        ticks="", showgrid=False, zeroline=False, tickangle=0,
        mirror=(q["deco"] == "frame"),
        tickfont=dict(family=FONT, size=5, color="#333"))
    lay[ref("yaxis", j)] = dict(
        domain=[fy(q["ypx"][1]), fy(q["ypx"][0])], range=q["yr"], anchor=xr_,
        tickmode="array", tickvals=q["yt"], tickformat=q["fmt"], ticks="outside",
        ticklen=2, tickwidth=0.5, tickcolor="black", showline=True,
        linecolor="black", linewidth=0.8, showgrid=False, zeroline=False,
        mirror=(q["deco"] == "frame"),
        tickfont=dict(family=FONT, size=5, color="#333"),
        title=dict(text=q["ytitle"], font=dict(family=FONT, size=5, color="#333"),
                   standoff=1))
    fig.add_trace(go.Bar(
        x=inset_cats, y=q["hcr"], width=0.34, offset=-0.34, xaxis=xr_, yaxis=yr_,
        showlegend=False, marker=dict(color="black", line=dict(width=0)),
        error_y=dict(type="data", symmetric=False, array=q["hcr_err"],
                     arrayminus=[0, 0, 0], color="black", thickness=0.6, width=1.5)))
    fig.add_trace(go.Bar(
        x=inset_cats, y=q["lcr"], width=0.34, offset=0, xaxis=xr_, yaxis=yr_,
        showlegend=False, marker=dict(color="white", line=dict(color="#777", width=0.6)),
        error_y=dict(type="data", symmetric=False, array=q["lcr_err"],
                     arrayminus=[0, 0, 0], color="#555", thickness=0.6, width=1.5)))
    if q["deco"] == "top":
        shapes.append(dict(type="line", xref=f"{xr_} domain", yref=f"{yr_} domain",
                           x0=0, x1=1, y0=1, y1=1, line=dict(color="#bdbdbd", width=2.5)))
    for k in q["stars"]:
        annotations.append(dict(text="<b>*</b>", x=inset_cats[k],
                                y=q["lcr"][k] + q["lcr_err"][k], xref=xr_, yref=yr_,
                                xshift=5, yshift=-2, showarrow=False,
                                xanchor="center", yanchor="bottom",
                                font=dict(family=FONT, size=11, color="black")))

fig.update_layout(**lay)
fig.update_layout(
    width=W, height=H, margin=dict(l=0, r=0, t=0, b=0),
    paper_bgcolor="white", plot_bgcolor="white", barmode="overlay",
    showlegend=True, annotations=annotations, shapes=shapes,
    font=dict(family=FONT))

fig.write_html("out.html")
